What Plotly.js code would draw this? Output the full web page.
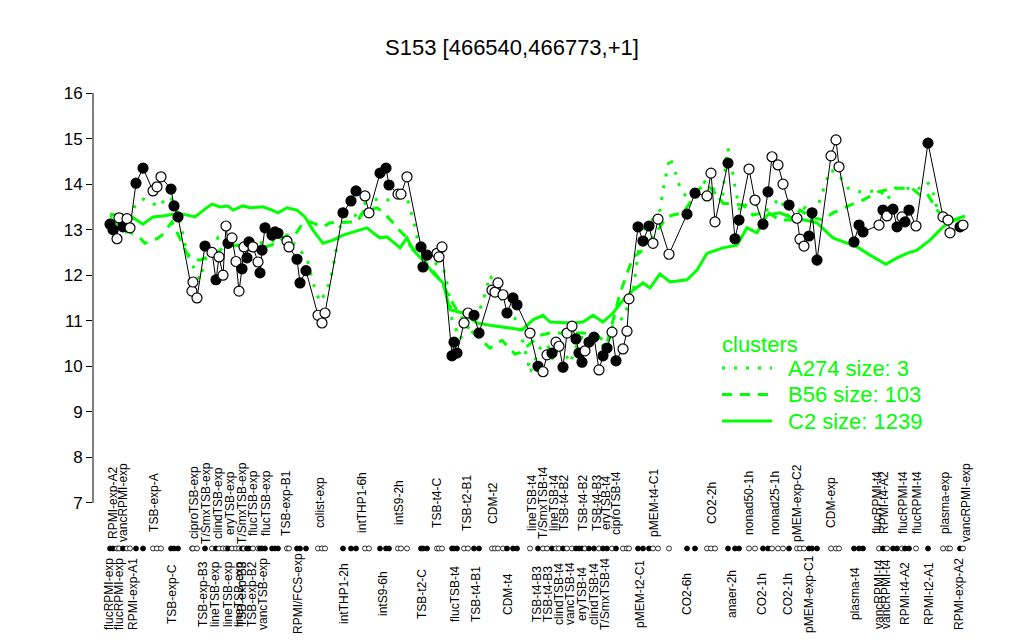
<!DOCTYPE html>
<html>
<head>
<meta charset="utf-8">
<script src="https://cdn.plot.ly/plotly-3.0.1.min.js"></script>
<style>html,body{margin:0;padding:0;background:#fff;}#chart{width:1024px;height:640px;}</style>
</head>
<body>
<div id="chart"></div>
<script>
// ---- sample points (position along sample order, expression value, filled flag) ----
const sampleX = [4.25,5,6,6.5,7.5,8.5,9.25,10.75,12.5,15,16,17,19.5,20.25,21.25,24.75,25,26,28,29.75,30.75,31.5,32.5,33.25,33.75,34.75,35.75,36.5,37.25,37.75,38.5,39,40,41.25,41.75,42.25,43,44.75,45.5,46.25,48.5,49,51,51.75,53.25,56.25,57.25,58,62.5,64.5,65.75,68,69,71.75,73.25,74,76.25,77,78.5,82,82.5,83.5,86,86.5,87.25,89.75,90.25,91,92.75,93.75,95.25,96.5,99.75,100.5,101.25,102.5,103.5,105,106,109.25,111.25,112.5,113.5,114.75,115.75,116.5,117.5,118.5,119.75,120.75,121.5,122.25,123,124,125.25,126.5,127.5,128.5,129.75,130.75,132.5,133.5,134,136.25,137.5,139,140,141.25,144,148.5,150.5,153.5,154.5,155.5,158.75,160.5,161.5,164,165.5,167.5,168.75,169.75,171.25,172.5,174,176,176.75,177.75,179,179.75,181,184.5,185.75,186.5,190.25,191.5,192.5,196.5,197.5,198.5,200,201,202.25,203,204,205.75,208.75,212.5,213.75,214.25,216.75,217.5];
const sampleY = [13.12,13.0,12.8,13.26,13.06,13.24,13.04,14.02,14.35,13.85,13.94,14.16,13.89,13.52,13.28,11.65,11.85,11.5,12.64,12.5,11.9,12.4,12.0,13.08,12.7,12.82,12.3,11.65,12.14,12.62,12.38,12.73,12.62,12.29,12.05,12.55,13.04,12.88,12.95,12.92,12.75,12.62,12.35,11.83,12.1,11.12,10.95,11.17,13.37,13.63,13.85,13.74,13.37,14.24,14.35,13.98,13.78,13.78,14.16,12.62,12.18,12.44,12.48,12.4,12.62,10.23,10.53,10.29,10.95,11.17,11.12,10.73,11.67,11.63,11.83,11.57,11.17,11.5,11.35,10.73,10.0,9.88,10.25,10.29,10.53,10.44,9.98,10.73,10.88,10.6,10.29,10.09,10.34,10.53,10.64,9.92,10.23,10.4,10.75,10.12,10.38,10.77,11.48,13.06,12.75,13.08,12.7,13.23,12.46,13.34,13.8,13.74,14.24,13.17,14.46,12.8,13.21,14.33,13.65,13.12,13.83,14.6,14.42,14.0,13.54,13.25,12.79,12.64,12.86,13.37,12.33,14.62,14.97,14.38,12.73,13.1,12.95,13.1,13.43,13.3,13.45,13.06,13.28,13.17,13.43,13.08,14.9,13.28,13.21,12.93,13.06,13.1];
const sampleFilled = [1,1,0,0,1,0,0,1,1,0,0,0,1,1,1,0,0,0,1,0,1,0,0,0,1,0,0,0,1,0,1,1,0,0,1,1,1,1,1,1,0,0,1,1,1,0,0,0,1,1,1,0,0,1,1,1,0,0,0,1,1,1,0,0,0,1,1,1,0,0,1,1,0,0,0,0,1,1,1,0,1,0,0,1,0,0,1,0,0,1,1,1,0,1,1,0,1,1,0,1,0,0,0,1,1,1,0,0,0,1,1,0,0,0,1,1,1,0,0,1,1,0,0,0,1,0,0,0,1,1,1,0,0,0,1,1,1,0,1,0,1,1,0,1,1,0,1,0,0,0,1,0];

// ---- cluster profile lines ----
const a274X = [4.25,7.5,8.75,10.5,12.5,14.75,16.75,18.25,20,21.25,22.5,23.5,24.25,26,26.75,28,29.25,31.25,33.5,36,41,44.75,48.5,51,53.5,55,56.75,58.5,59.75,60.5,61.75,63.75,65.5,66.75,68,71.75,73.75,76.75,78.5,79.25,80.5,81.75,84.75,87.5,88.75,89.75,91.75,94.25,97.25,99.25,101,103,106.25,107.5,108.75,109.25,111.75,113.5,115,116.75,119.25,121.75,124.25,126,128.5,130,133,134.25,135,136.25,137.5,139.25,141.75,142.5,143.5,144.25,145,146,146.75,148,150.5,153,154.75,156,157.25,158.25,158.75,159.75,160.5,161.75,163.5,166,168.5,171.75,174.25,176.75,178,180,182.5,183.5,184.25,186.25,187.5,188.75,191.75,193.75,196.75,198.5,200.5,203.5,206,208.5,209.75,211,212.5,214.25,217.25];
const a274Y = [13.32,13.17,12.84,13.54,13.67,13.58,13.5,13.72,13.65,13.37,12.84,12.48,12.33,12.05,11.9,12.33,12.6,12.82,12.62,12.66,12.7,12.75,12.84,12.62,12.37,11.83,11.41,11.67,12.05,12.4,13.06,13.37,13.32,13.21,13.58,13.69,13.65,13.72,13.7,13.48,13.06,12.48,12.29,12.18,11.74,11.02,10.6,10.9,11.35,12.0,11.7,11.3,10.97,10.53,10.1,9.85,10.4,10.5,10.14,10.51,10.07,10.64,10.62,10.47,10.45,10.9,11.1,11.57,11.6,12.48,13.0,13.15,13.43,13.87,14.31,14.6,14.38,14.16,13.91,13.76,13.83,14.05,13.94,13.76,13.6,14.53,14.79,14.35,13.94,13.39,13.58,13.54,13.43,13.69,13.21,13.39,13.48,13.2,13.87,14.16,14.31,14.24,14.05,13.91,13.83,13.83,13.87,13.65,13.91,13.91,13.87,14.05,13.91,13.48,13.37,13.3,12.93];
const b56X = [4.25,8,11.75,13,16,17.25,19.75,22.25,23.5,24.75,26.75,31,33,36,39.25,43,46,48.5,50.5,52.5,54.25,57.5,59.25,66,67.5,71,72.5,75,76,78.25,79.25,83,86.75,90.5,94.25,99.25,102.25,105.5,106.75,111.75,114.25,122.5,126,128.5,131.75,135,136.75,140,143.5,145,147.5,151.75,153.5,156,157.5,162.5,165,168.5,171.75,175,176.75,179.25,182.5,185,186.75,189.25,192.5,196.25,200,204.75,206.75,208.5,211,213.5,216,218];
const b56Y = [13.25,13.0,12.82,12.7,12.8,12.88,13.17,12.7,12.48,12.37,12.33,12.5,12.62,12.66,12.55,12.62,12.7,12.88,12.88,13.15,13.17,13.06,13.15,13.17,13.39,13.48,13.39,13.15,13.04,12.84,12.66,12.3,11.9,11.3,10.8,10.4,10.57,10.27,10.3,10.68,10.73,10.73,10.68,10.5,11.6,12.4,12.5,12.84,13.28,13.32,13.37,13.91,13.98,13.76,13.58,13.54,13.32,13.39,13.21,13.21,13.43,13.28,13.21,13.37,13.43,13.54,13.65,13.83,13.91,13.91,13.76,13.8,13.43,13.21,13.21,13.28];
const c2X = [4.25,9.75,12.5,15,17.5,20,22.5,25.5,28,29.75,31.75,33.75,35,37.5,39.25,42.5,44.75,46.25,48.5,51,53,55,57.5,60,62.5,65,68.5,70,71.75,73.5,76.75,78.5,80,82.5,85,87.5,89.25,92.5,96,99.25,103.5,107.25,110,112.5,114.25,117.5,120,122.5,125,127.5,130,132.5,135,137.5,139.25,141.75,144.25,148.5,151,153.5,157.5,161,163.5,166,168.5,171.75,175,178.5,181,185,191,194.25,198.25,201,203.5,206,209.25,212.5,215,218];
const c2Y = [13.34,13.28,13.12,13.28,13.3,13.34,13.34,13.28,13.45,13.56,13.5,13.52,13.43,13.52,13.48,13.5,13.43,13.37,13.48,13.43,13.28,12.99,12.7,12.77,12.88,12.95,13.04,12.93,12.82,12.84,12.6,12.82,12.55,12.33,12.05,11.83,11.24,11.17,10.95,10.9,10.84,10.8,11.02,11.12,10.97,10.95,10.95,10.97,11.12,10.97,11.17,11.45,11.67,11.83,11.72,12.03,11.85,11.9,12.11,12.48,12.6,12.66,13.04,12.93,13.32,13.37,13.25,13.2,13.15,12.82,12.62,12.44,12.24,12.38,12.48,12.55,12.77,13.06,13.21,13.3];

// ---- condition labels ----
const topLabels = ["RPMI-exp-A2","vancRPMI-exp","TSB-exp-A","ciproTSB-exp","T/SmxTSB-exp","clindTSB-exp","eryTSB-exp","T/SmxTSB-exp","flucTSB-exp","flucTSB-exp","TSB-exp-B1","colist-exp","intTHP1-6h","intS9-2h","TSB-t4-C","TSB-t2-B1","CDM-t2","lineTSB-t4","T/SmxTSB-t4","lineTSB-t4","TSB-t4-B2","TSB-t4-B2","TSB-t4-B3","eryTSB-t4","ciproTSB-t4","pMEM-t4-C1","CO2-2h","nonad50-1h","nonad25-1h","pMEM-exp-C2","CDM-exp","flucRPMI-t4","RPMI-t4-A2","flucRPMI-t4","flucRPMI-t4","plasma-exp","vancRPMI-exp"];
const topLabelX = [5,7.5,15.25,25.25,28.25,31.25,34.25,37.25,40,43.25,48.25,56.75,67.25,76.5,86,93.5,100,109.75,112.5,115.25,117.75,122.5,126,128.25,130.75,140.25,154.75,164,170.5,176,184.5,196,197.75,202.5,206,213,218.25];
const bottomLabels = ["flucRPMI-exp","flucRPMI-exp","RPMI-exp-A1","TSB-exp-C","TSB-exp-B3","lineTSB-exp","lineTSB-exp","lineTSB-exp","TSB-exp-B3","TSB-exp-B2","vancTSB-exp","RPMI/FCS-exp","intTHP1-2h","intS9-6h","TSB-t2-C","flucTSB-t4","TSB-t4-B1","CDM-t4","TSB-t4-B3","TSB-t4-B3","clindTSB-t4","vancTSB-t4","eryTSB-t4","clindTSB-t4","T/SmxTSB-t4","pMEM-t2-C1","CO2-6h","anaer-2h","CO2-1h","CO2-1h","pMEM-exp-C1","plasma-t4","vancRPMI-t4","vancRPMI-t4","RPMI-t4-A2","RPMI-t2-A1","RPMI-exp-A2"];
const bottomLabelX = [4,6.5,10,19.75,27.5,30.5,33.75,36.5,37.25,39.75,42.5,51.25,62.75,72.5,82.25,90.5,95.75,103.75,111,113.75,116.5,119.25,122.25,125.25,128,136.75,148.5,159.75,167.25,173.75,179,190.5,196.5,198.25,203,209,216.5];

const yTicks = [7,8,9,10,11,12,13,14,15,16];
const titleText = "S153 [466540,466773,+1]";
const legendTitle = "clusters";
const legendNames = ["A274 size: 3", "B56 size: 103", "C2 size: 1239"];
const legendDash = ["3px,9px", "10px,8px", "solid"];

const GREEN = "#00ff00";
const FONT = "Liberation Sans, Arial, Helvetica, sans-serif";
const fillColors = sampleFilled.map(f => f ? "#000000" : "#ffffff");
const rowY = sampleX.map(() => 6);

const traces = [
  {x: a274X, y: a274Y, mode: "lines", name: legendNames[0], line: {color: GREEN, width: 3, dash: legendDash[0]}, hoverinfo: "skip"},
  {x: b56X, y: b56Y, mode: "lines", name: legendNames[1], line: {color: GREEN, width: 3, dash: legendDash[1]}, hoverinfo: "skip"},
  {x: c2X, y: c2Y, mode: "lines", name: legendNames[2], line: {color: GREEN, width: 3}, hoverinfo: "skip"},
  {x: sampleX, y: sampleY, mode: "lines+markers", cliponaxis: false,
   line: {color: "#000000", width: 1},
   marker: {size: 10, color: fillColors, line: {color: "#000000", width: 1.2}}},
  {x: sampleX, y: rowY, mode: "markers", cliponaxis: false,
   marker: {size: 5, color: fillColors, line: {color: "#000000", width: 0.8}}}
];

const annotations = [];
topLabels.forEach((t, i) => annotations.push({x: topLabelX[i], y: 7, xref: "x", yref: "y", text: t, showarrow: false, textangle: -90, xanchor: "center", yanchor: "middle", font: {family: FONT, size: 12, color: "#000"}}));
bottomLabels.forEach((t, i) => annotations.push({x: bottomLabelX[i], y: 5, xref: "x", yref: "y", text: t, showarrow: false, textangle: -90, xanchor: "center", yanchor: "middle", font: {family: FONT, size: 12, color: "#000"}}));

// legend (drawn in paper space, like R's legend box)
const legX0 = 0.7123, legX1 = 0.769, legTextX = 0.7848;
const legRows = [0.4926, 0.4437, 0.3948];
annotations.push({x: 0.7101, y: 0.5351, xref: "paper", yref: "paper", text: legendTitle, showarrow: false, xanchor: "left", yanchor: "middle", font: {family: FONT, size: 22, color: GREEN}});
const shapes = [{type: "line", xref: "paper", yref: "y", x0: 0, x1: 0, y0: 7, y1: 16, line: {color: "#000", width: 1}}];
legendNames.forEach((n, i) => {
  annotations.push({x: legTextX, y: legRows[i], xref: "paper", yref: "paper", text: n, showarrow: false, xanchor: "left", yanchor: "middle", font: {family: FONT, size: 22, color: GREEN}});
  shapes.push({type: "line", xref: "paper", yref: "paper", x0: legX0, x1: legX1, y0: legRows[i], y1: legRows[i], line: {color: GREEN, width: 3, dash: legendDash[i]}});
});

const layout = {
  width: 1024, height: 640,
  margin: {l: 93, r: 48, t: 93, b: 5},
  paper_bgcolor: "#fff", plot_bgcolor: "#fff",
  font: {family: FONT, color: "#000"},
  showlegend: false,
  title: {text: titleText, font: {family: FONT, size: 22, color: "#000"}, x: 0.5, xanchor: "center", y: 1 - 47/640, yanchor: "middle"},
  xaxis: {range: [0, 220.75], visible: false, showgrid: false, zeroline: false, fixedrange: true},
  yaxis: {range: [4.1, 16], tickvals: yTicks, ticktext: yTicks.map(String), ticks: "outside", ticklen: 6, tickwidth: 1, tickcolor: "#000",
          showgrid: false, zeroline: false, showline: false, tickfont: {family: FONT, size: 17, color: "#000"}, fixedrange: true},
  shapes: shapes,
  annotations: annotations
};

Plotly.newPlot("chart", traces, layout, {displayModeBar: false, staticPlot: true});
</script>
</body>
</html>
